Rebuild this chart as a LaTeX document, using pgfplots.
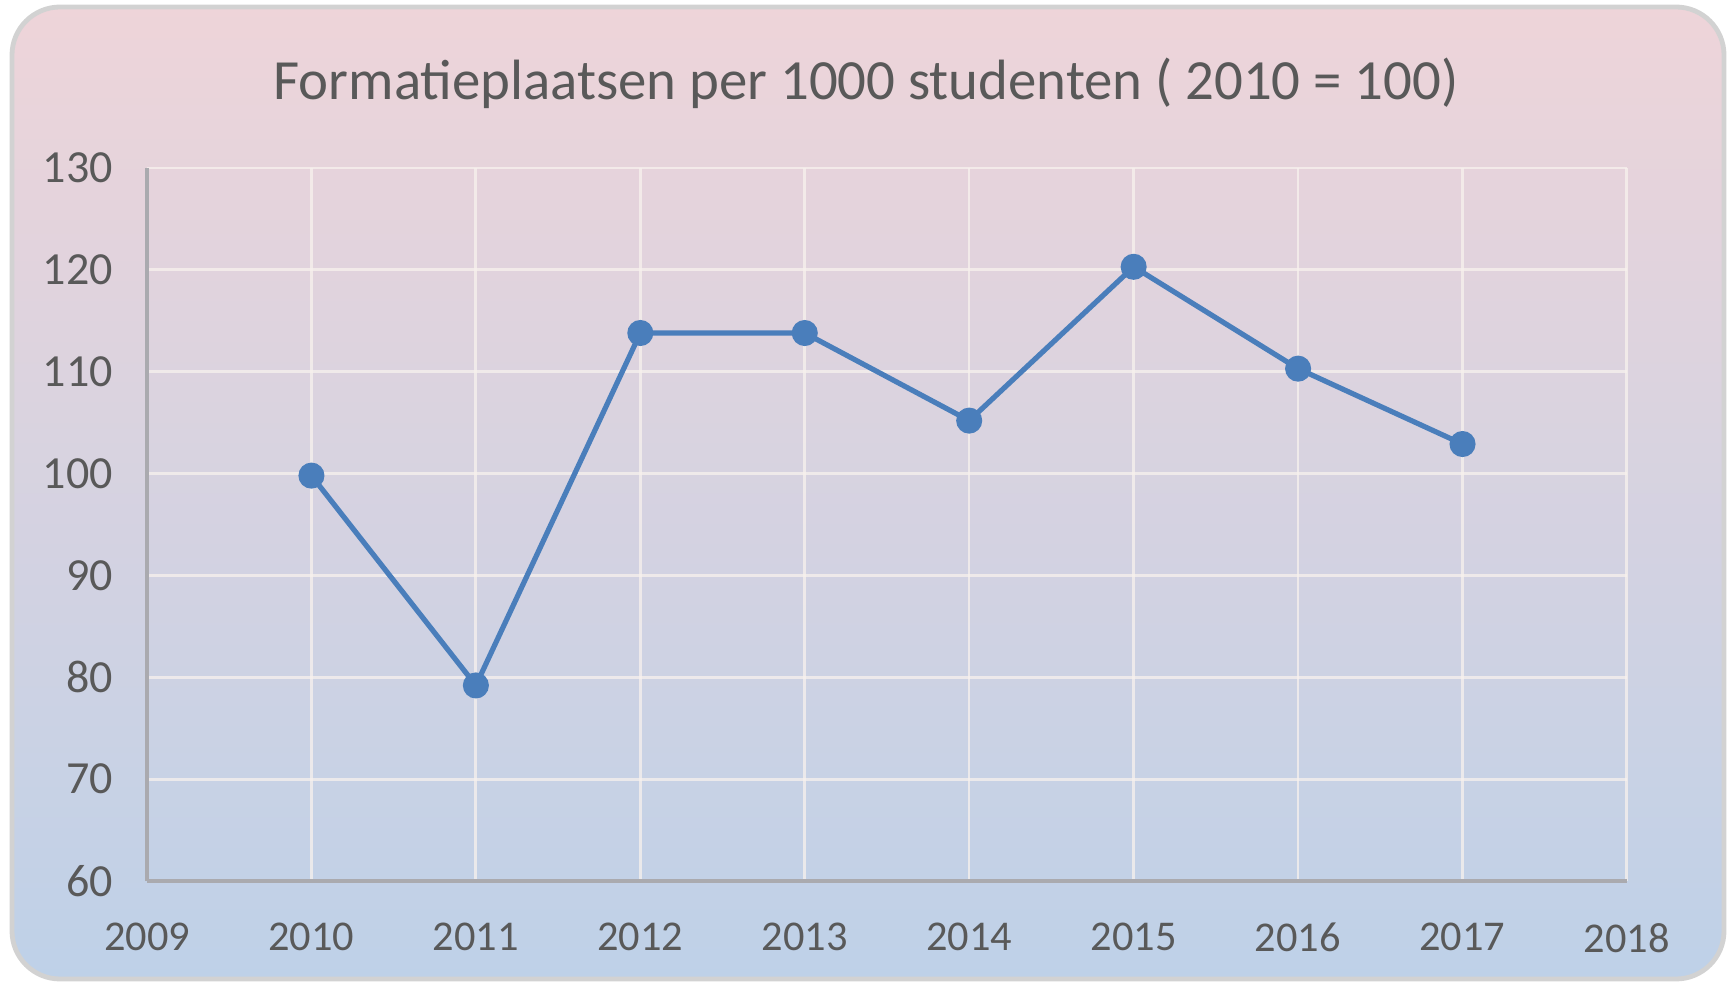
\documentclass[border=0pt]{standalone}
\usepackage{pgfplots}
\pgfplotsset{compat=1.18}
\usepackage{fontspec}
\setmainfont{Carlito}
\definecolor{bgtop}{RGB}{238,212,217}
\definecolor{bgbot}{RGB}{190,209,232}
\definecolor{linec}{RGB}{74,126,187}
\definecolor{txt}{RGB}{89,89,89}
\definecolor{gridc}{RGB}{248,242,238}
\definecolor{axc}{RGB}{170,170,175}
\begin{document}
\begin{tikzpicture}[x=1pt,y=1pt]
\useasboundingbox (0,0) rectangle (433.25,246.25);
\fill[white] (0,0) rectangle (433.25,246.25);
\shade[top color=bgtop, bottom color=bgbot, rounded corners=12pt, draw=gray!35, line width=1.2pt] (3,1.5) rectangle (431,244.5);
\node[txt, font=\fontsize{14.2}{16}\selectfont] at (216.5,225.5) {Formatieplaatsen per 1000 studenten ( 2010 = 100)};
\begin{axis}[
  at={(36.75pt,26pt)}, anchor=south west,
  scale only axis, width=370pt, height=178.25pt,
  xmin=2009, xmax=2018, ymin=60, ymax=130,
  xtick={2009,...,2018}, ytick={60,70,...,130},
  /pgf/number format/1000 sep={},
  /pgf/number format/assume math mode=true,
  axis x line*=bottom, axis y line*=left,
  axis line style={-, axc, line width=0.8pt},
  major tick length=0pt,
  grid=major, grid style={gridc, opacity=0.75, line width=0.7pt},
  tick label style={txt},
  xticklabel style={yshift=-7pt, font=\fontsize{10.6}{12}\selectfont},
  yticklabel style={xshift=-5pt, font=\fontsize{11.5}{13}\selectfont},
]
\addplot[linec, line width=1.3pt, mark=*, mark size=2.6pt, mark options={fill=linec, draw=linec}] coordinates {
(2010,99.8) (2011,79.2) (2012,113.8) (2013,113.8) (2014,105.2) (2015,120.3) (2016,110.3) (2017,102.9)
};
\end{axis}
\end{tikzpicture}
\end{document}
